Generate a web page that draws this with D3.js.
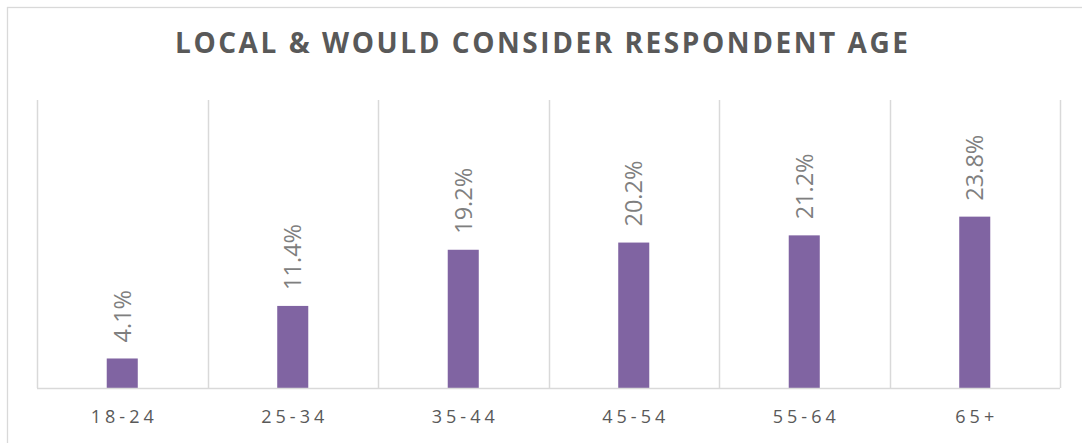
<!DOCTYPE html>
<html>
<head>
<meta charset="utf-8">
<script src="https://cdn.jsdelivr.net/npm/d3@7"></script>
<style>
  html, body { margin: 0; padding: 0; background: #fff; }
  svg { display: block; }
</style>
</head>
<body>
<script>
const title = "LOCAL & WOULD CONSIDER RESPONDENT AGE";
const categories = ["18-24", "25-34", "35-44", "45-54", "55-64", "65+"];
const values = [4.1, 11.4, 19.2, 20.2, 21.2, 23.8];
const yDomain = [0, 40];

const W = 1082, H = 443;
const plot = { left: 37, right: 1060, top: 100, bottom: 388 };

const svg = d3.select("body").append("svg").attr("width", W).attr("height", H);

// outer chart border
svg.append("rect")
  .attr("x", 7.5).attr("y", 7.5)
  .attr("width", 1100).attr("height", 460)
  .attr("fill", "#fff").attr("stroke", "#d9d9d9").attr("stroke-width", 1.3);

const x = d3.scaleBand()
  .domain(categories)
  .range([plot.left, plot.right])
  .paddingInner(0.818)
  .paddingOuter(0.409);

const y = d3.scaleLinear().domain(yDomain).range([plot.bottom, plot.top]);

const step = x.step();

// vertical category gridlines
const gridX = d3.range(categories.length + 1).map(i => plot.left + i * step);
svg.append("g").selectAll("line").data(gridX).join("line")
  .attr("x1", d => Math.round(d) + 0.5).attr("x2", d => Math.round(d) + 0.5)
  .attr("y1", plot.top).attr("y2", plot.bottom)
  .attr("stroke", "#d9d9d9").attr("stroke-width", 1.5);

// bars
svg.append("g").selectAll("rect").data(values).join("rect")
  .attr("x", (d, i) => x(categories[i]))
  .attr("y", d => y(d))
  .attr("width", x.bandwidth())
  .attr("height", d => y(0) - y(d))
  .attr("fill", "#8064a2");

// baseline axis
const xAxis = d3.axisBottom(x).tickSize(0).tickPadding(0);
const gx = svg.append("g").attr("transform", `translate(0,${plot.bottom})`).call(xAxis);
gx.select(".domain").attr("stroke", "#d9d9d9").attr("stroke-width", 1.5)
  .attr("d", `M${plot.left},0.5H${plot.right}`);
gx.selectAll(".tick text")
  .attr("y", 35)
  .attr("dy", 0)
  .attr("dx", 2)
  .attr("fill", "#595959")
  .style("font-family", "'Open Sans', sans-serif")
  .style("font-size", "18px")
  .style("letter-spacing", "4px");

// value labels (rotated)
svg.append("g").selectAll("text").data(values).join("text")
  .attr("transform", (d, i) => `translate(${x(categories[i]) + x.bandwidth() / 2},${y(d) - 16}) rotate(-90)`)
  .attr("dy", "0.36em")
  .attr("text-anchor", "start")
  .attr("fill", "#7f7f7f")
  .style("font-family", "'Open Sans', sans-serif")
  .style("font-size", "23.5px")
  .text(d => d.toFixed(1) + "%");

// title
const t = svg.append("text")
  .attr("x", 175).attr("y", 53)
  .attr("fill", "#595959")
  .style("font-family", "'Open Sans', sans-serif")
  .style("font-weight", "700")
  .style("font-size", "28px")
  .text(title);
const natural = t.node().getComputedTextLength();
const ls = (733 - natural) / (title.length - 1);
t.style("letter-spacing", ls + "px");
</script>
</body>
</html>
